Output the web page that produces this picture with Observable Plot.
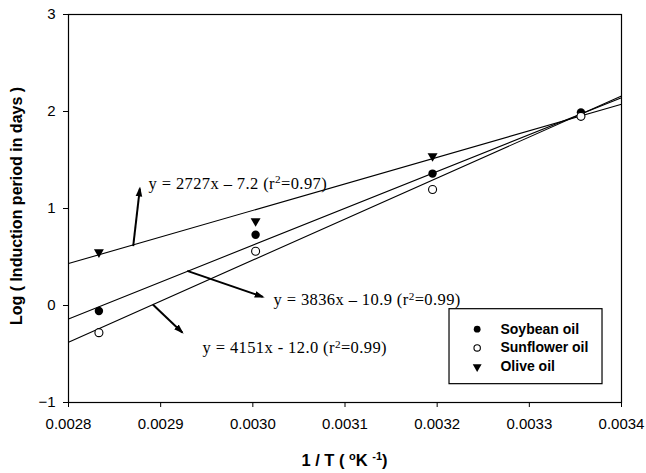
<!DOCTYPE html>
<html><head><meta charset="utf-8">
<script src="https://cdn.jsdelivr.net/npm/d3@7"></script>
<script src="https://cdn.jsdelivr.net/npm/@observablehq/plot@0.6"></script>
<style>
body{margin:0;background:#fff}
#chart{width:646px;height:473px}
</style>
</head><body><div id="chart"></div>
<script>
// ---- data ----
const series = ["Soybean oil", "Sunflower oil", "Olive oil"];
const invT = [0.002833, 0.003003, 0.003195, 0.003356];
const soybean = [-0.056, 0.73, 1.36, 1.99];
const sunflower = [-0.28, 0.56, 1.196, 1.95];
const olive = [0.55, 0.87, 1.54, null];
const fitSlope = [3800, 4230, 2737];
const fitIntercept = [-10.778, -12.222, -7.231];
const equations = ["y = 3836x – 10.9 (r²=0.99)", "y = 4151x - 12.0 (r²=0.99)", "y = 2727x – 7.2 (r²=0.97)"];
const xTicks = [0.0028, 0.0029, 0.0030, 0.0031, 0.0032, 0.0033, 0.0034];
const yTicks = [-1, 0, 1, 2, 3];
const xDomain = [0.0028, 0.0034];
const yDomain = [-1, 3];
const yLabel = "Log ( Induction period in days )";

// ---- annotation anchors (data coordinates) ----
const eqAnchor = [[0.0030224, 0.055], [0.0029454, -0.44], [0.0028868, 1.255]];
const arrowFrom = [[0.0029288, 0.357], [0.0028915, 0.0103], [0.0028702, 0.611]];
const arrowTo = [[0.0030108, 0.089], [0.0029234, -0.278], [0.0028774, 1.206]];
const legendBox = {x1: 0.0032134, x2: 0.0033794, y1: -0.038, y2: -0.811};
const legendSymX = 0.0032434, legendTextX = 0.0032687;
const legendRowY = [-0.244, -0.437, -0.633];

// ---- tables ----
const values = [soybean, sunflower, olive];
const pts = [];
series.forEach((s, i) => invT.forEach((x, j) => {
  const v = values[i][j];
  if (v != null) pts.push({series: s, x, y: v});
}));
const fits = series.flatMap((s, i) => xDomain.map(x => ({series: s, x, y: fitSlope[i] * x + fitIntercept[i]})));
const eqs = series.map((s, i) => ({text: equations[i], x: eqAnchor[i][0], y: eqAnchor[i][1]}));
const arrows = series.map((s, i) => ({x1: arrowFrom[i][0], y1: arrowFrom[i][1], x2: arrowTo[i][0], y2: arrowTo[i][1]}));
const legend = series.map((s, i) => ({series: s, y: legendRowY[i]}));

const serif = "'Liberation Serif', 'Times New Roman', serif";
const sans = "'Liberation Sans', Arial, sans-serif";

// filled arrowhead marker
function filledHead(color, context) {
  const m = d3.select(context.document.createElementNS("http://www.w3.org/2000/svg", "marker"))
    .attr("viewBox", "-5 -5 10 10")
    .attr("markerWidth", 5).attr("markerHeight", 5)
    .attr("markerUnits", "strokeWidth")
    .attr("orient", "auto")
    .attr("refX", 3)
    .attr("fill", color).attr("stroke", "none");
  m.append("path").attr("d", "M-5,-3.3L5,0L-5,3.3Z");
  return m.node();
}

const plot = Plot.plot({
  width: 646, height: 473,
  marginLeft: 68, marginRight: 25, marginTop: 14, marginBottom: 71,
  style: {fontFamily: sans, fontSize: "15px", color: "black", background: "white"},
  x: {domain: xDomain},
  y: {domain: yDomain},
  marks: [
    Plot.axisX({ticks: xTicks, tickFormat: d3.format(".4f"), tickSize: 5, tickPadding: 11, label: null}),
    Plot.axisY({ticks: yTicks, tickFormat: d3.format("d"), tickSize: 5, tickPadding: 8, label: null}),
    Plot.line(fits, {x: "x", y: "y", z: "series", stroke: "black", strokeWidth: 1.1}),
    Plot.dot(pts.filter(d => d.series === series[2]), {x: "x", y: "y", symbol: "triangle", rotate: 180, r: 3.7, fill: "black", stroke: "none"}),
    Plot.dot(pts.filter(d => d.series === series[0]), {x: "x", y: "y", r: 4.2, fill: "black", stroke: "none"}),
    Plot.dot(pts.filter(d => d.series === series[1]), {x: "x", y: "y", r: 4, fill: "white", stroke: "black", strokeWidth: 1.1}),
    Plot.link(arrows, {x1: "x1", y1: "y1", x2: "x2", y2: "y2", stroke: "black", strokeWidth: 2, markerEnd: filledHead}),
    Plot.text(eqs, {x: "x", y: "y", text: "text", textAnchor: "start", fontFamily: serif, fontSize: 16.5, fill: "black"}),
    Plot.rect([legendBox], {x1: "x1", x2: "x2", y1: "y1", y2: "y2", fill: "white", stroke: "black", strokeWidth: 1.2}),
    Plot.dot([legend[0]], {x: () => legendSymX, y: "y", r: 3.4, fill: "black"}),
    Plot.dot([legend[1]], {x: () => legendSymX, y: "y", r: 3.2, fill: "white", stroke: "black", strokeWidth: 1.1}),
    Plot.dot([legend[2]], {x: () => legendSymX, y: "y", symbol: "triangle", rotate: 180, r: 3.3, fill: "black"}),
    Plot.text(legend, {x: () => legendTextX, y: "y", text: "series", textAnchor: "start", fontWeight: "bold", fontSize: 14, fill: "black"}),
    Plot.frame({stroke: "black", strokeWidth: 1.2})
  ]
});

const svg = d3.select(plot);
// equation text: real superscript 2, slightly widened like the original
svg.selectAll("text").filter(function() { return this.textContent.startsWith("y ="); })
  .style("letter-spacing", "0.4px")
  .each(function() {
    const parts = this.textContent.split("²");
    if (parts.length !== 2) return;
    const t = d3.select(this);
    t.text(null);
    t.append("tspan").text(parts[0]);
    t.append("tspan").attr("font-size", "0.68em").attr("dy", "-0.5em").text("2");
    t.append("tspan").attr("dy", "0.34em").text(parts[1]);
  });
// y-axis title
svg.append("text")
  .attr("transform", "translate(18,206) rotate(-90)")
  .attr("text-anchor", "middle").attr("dominant-baseline", "middle")
  .attr("font-family", sans).attr("font-weight", "bold").attr("font-size", 16)
  .attr("fill", "black").text(yLabel);
// x-axis title with superscript
const xl = svg.append("text")
  .attr("x", 344.5).attr("y", 466)
  .attr("text-anchor", "middle")
  .attr("font-family", sans).attr("font-weight", "bold").attr("font-size", 16.5)
  .attr("fill", "black");
xl.append("tspan").text("1 / T ( ");
xl.append("tspan").attr("font-size", 11).attr("dy", -6).text("o");
xl.append("tspan").attr("dy", 6).text("K ");
xl.append("tspan").attr("font-size", 11).attr("dy", -6).text("-1");
xl.append("tspan").attr("dy", 6).text(")");

document.getElementById("chart").appendChild(plot);
</script>
</body></html>
